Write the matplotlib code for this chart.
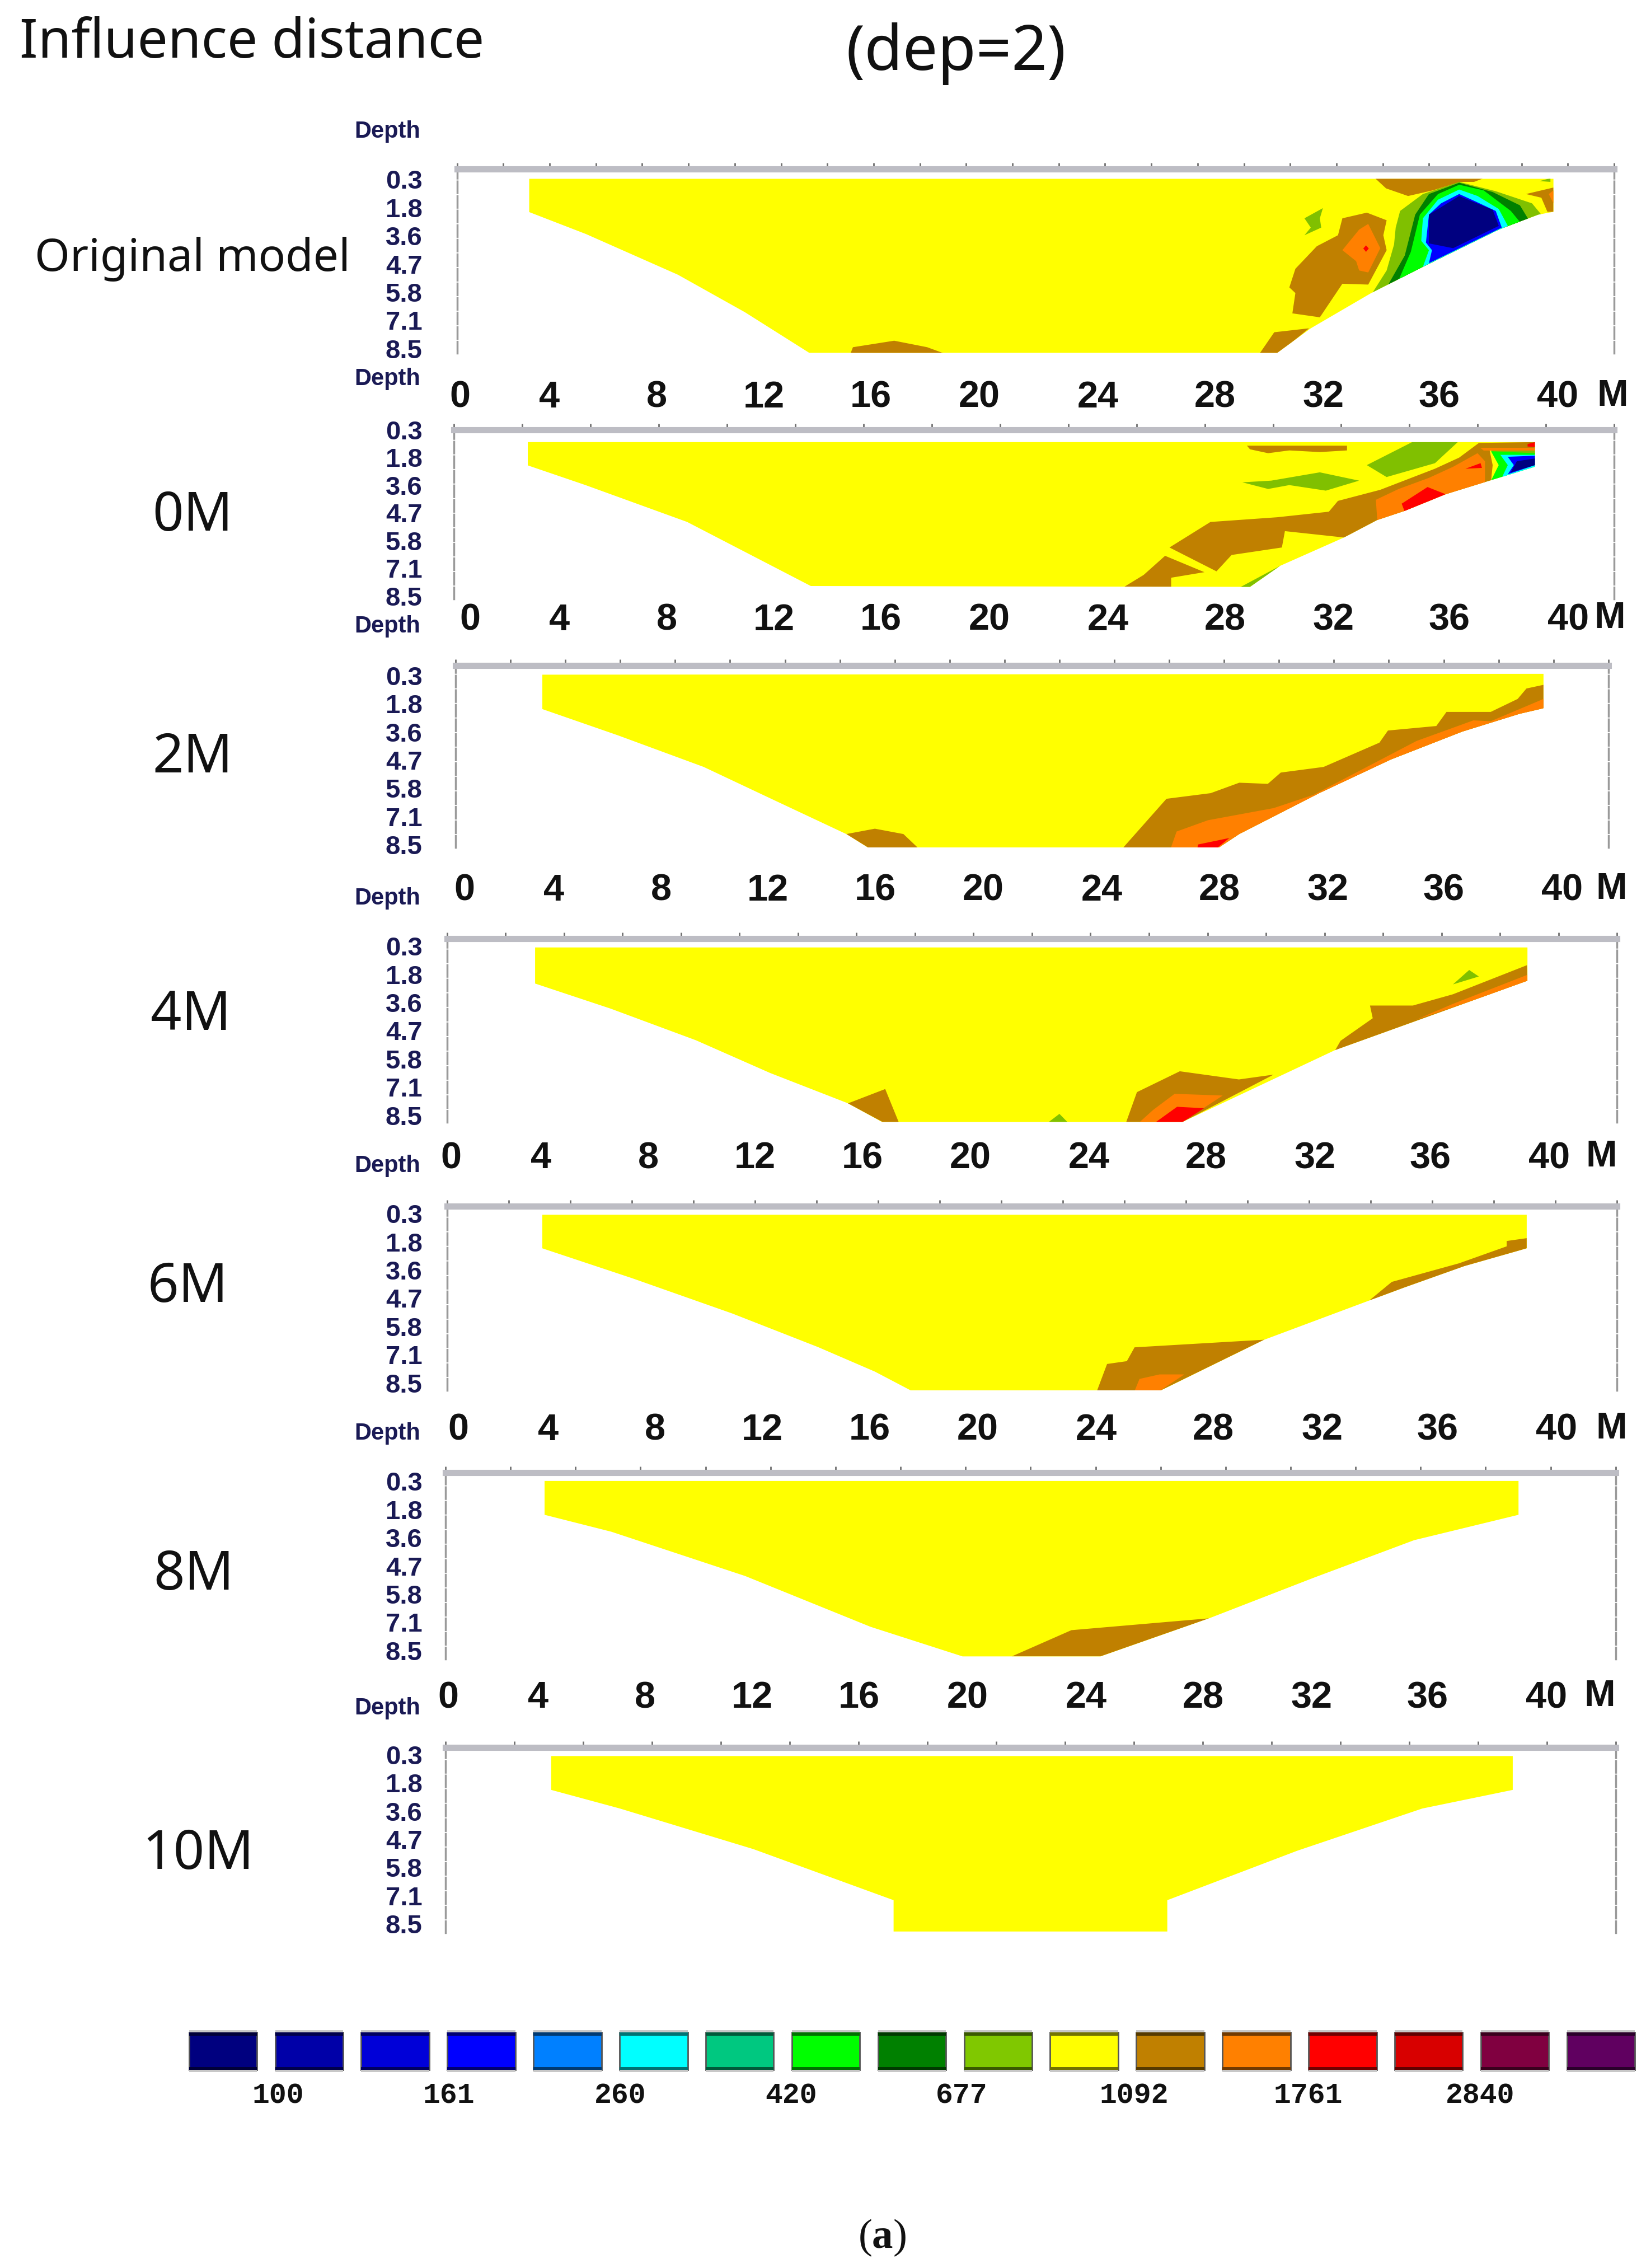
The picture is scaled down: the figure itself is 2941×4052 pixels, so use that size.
import numpy as np
import matplotlib
matplotlib.use('Agg')
import matplotlib.pyplot as plt

W, H = 2941, 4052
SCALE = 2941 / 1138.0  # layout was measured on the shrunk picture

YELLOW = '#ffff00'
BROWN = '#c08000'
ORANGE = '#ff8000'
RED = '#ff0000'
LGREEN = '#80c000'
DGREEN = '#008000'
GREEN = '#00ff00'
CYAN = '#00ffff'
BLUE = '#0000ff'
NAVY = '#000080'
INK = '#1a1a55'

depth_labels = ['0.3', '1.8', '3.6', '4.7', '5.8', '7.1', '8.5']
dist_labels = ['0', '4', '8', '12', '16', '20', '24', '28', '32', '36', '40']
# where the distance labels actually sit, metres from the zero label
dist_pos = [0, 3.26, 7.16, 11.05, 14.95, 18.89, 23.21, 27.47, 31.42, 35.63, 39.95]

panel_names = ['Original model', '0M', '2M', '4M', '6M', '8M', '10M']

# (metres, depth level) where level 0..6 are the depth labels
p1_outline = [(2.52, -0.02), (2.52, 1.16), (4.59, 1.94), (7.93, 3.38), (10.37, 4.71), (12.71, 6.15),
              (29.74, 6.15), (30.96, 5.28), (33.16, 4.03), (35.04, 3.1), (37.8, 1.78), (39.24, 1.25),
              (39.79, 1.15), (39.79, -0.02)]
p1_regions = [
    (BROWN, [(14.2, 6.2), (14.3, 5.95), (15.8, 5.72), (17.0, 5.95), (17.7, 6.2)]),
    (BROWN, [(33.3, -0.04), (37.25, -0.04), (36.9, 0.09), (36.4, 0.09), (35.4, 0.39), (34.5, 0.59), (33.7, 0.32)]),
    (LGREEN, [(31.4, 1.02), (30.73, 1.38), (30.96, 1.71), (30.73, 1.98), (31.34, 1.71), (31.29, 1.38)]),
    (BROWN, [(33.0, 1.18), (33.72, 1.45), (33.6, 1.98), (33.72, 2.51), (33.05, 3.73), (32.11, 3.70), (31.29, 4.89),
             (30.29, 4.75), (30.4, 4.03), (30.18, 3.83), (30.4, 3.17), (31.18, 2.37), (31.95, 1.98), (32.11, 1.38)]),
    (ORANGE, [(33.05, 1.58), (33.49, 2.44), (33.05, 3.30), (32.72, 3.23), (32.61, 2.9), (32.11, 2.51), (32.72, 1.78)]),
    (RED, [(32.97, 2.34), (33.07, 2.45), (32.97, 2.57), (32.87, 2.45)]),
    (BROWN, [(30.9, 5.28), (29.63, 5.42), (29.08, 6.2), (29.74, 6.2)]),
    (LGREEN, [(36.36, 0.09), (37.69, 0.42), (39.01, 0.85), (39.35, 1.25), (35.04, 4.56), (33.16, 4.09), (33.72, 3.23),
              (33.99, 2.31), (34.05, 1.71), (34.21, 1.12), (35.04, 0.52)]),
    (DGREEN, [(36.36, 0.12), (37.58, 0.45), (38.57, 0.92), (38.9, 1.45), (33.72, 3.83), (34.38, 2.7), (34.76, 1.25), (35.26, 0.52)]),
    (GREEN, [(36.36, 0.19), (37.25, 0.39), (38.24, 1.12), (38.57, 1.51), (34.16, 3.56), (34.6, 2.57), (34.93, 1.25), (35.59, 0.52)]),
    (CYAN, [(36.36, 0.36), (37.03, 0.59), (37.8, 1.05), (38.13, 1.65), (35.04, 3.1), (35.26, 2.51), (34.98, 2.18), (35.04, 1.38), (35.59, 0.72)]),
    (BLUE, [(36.36, 0.52), (36.97, 0.79), (37.69, 1.12), (37.91, 1.71), (35.26, 2.97), (35.37, 2.51), (35.15, 2.24), (35.26, 1.25), (35.7, 0.85)]),
    (NAVY, [(36.36, 0.59), (37.58, 1.08), (37.8, 1.65), (36.14, 2.44), (35.26, 2.27), (35.26, 1.25)]),
    (BROWN, [(38.79, 0.52), (39.79, 0.29), (39.79, 1.15), (39.57, 1.15), (39.35, 0.65)]),
    (ORANGE, [(39.62, 0.52), (39.79, 0.39), (39.79, 0.85)]),
    (LGREEN, [(39.29, 0.06), (39.68, -0.04), (39.68, 0.09)]),
]

p2_outline = [(2.1, 0.45), (2.1, 1.29), (4.2, 2.0), (7.9, 3.33), (12.4, 5.64), (28.38, 5.67), (29.48, 4.91),
              (31.8, 3.89), (33.01, 3.26), (34.01, 2.93), (35.5, 2.33), (37.0, 1.87), (38.75, 1.34), (38.75, 0.45)]
p2_regions = [
    (BROWN, [(28.27, 0.58), (31.91, 0.58), (31.91, 0.75), (30.92, 0.81), (29.81, 0.75), (29.04, 0.85), (28.38, 0.71)]),
    (LGREEN, [(34.28, 0.45), (35.94, 0.45), (35.11, 1.21), (33.35, 1.71), (32.63, 1.28)]),
    (LGREEN, [(28.1, 1.9), (29.15, 1.84), (30.92, 1.54), (32.35, 1.84), (31.14, 2.2), (29.81, 2.0), (29.04, 2.14)]),
    (BROWN, [(25.45, 4.25), (26.94, 3.33), (29.37, 3.16), (31.25, 2.96), (31.58, 2.57), (33.12, 2.17), (35.11, 1.41),
             (35.99, 1.01), (36.71, 0.48), (38.75, 0.45), (38.75, 0.71), (37.1, 0.75), (37.21, 1.28), (37.15, 1.87),
             (31.8, 3.89), (29.65, 3.66), (29.54, 4.25), (27.71, 4.52), (27.16, 5.11)]),
    (BROWN, [(25.29, 4.55), (26.72, 5.14), (25.51, 5.34), (25.51, 5.67), (23.8, 5.67), (24.51, 5.24)]),
    (LGREEN, [(27.99, 5.7), (29.48, 4.91), (28.49, 5.7)]),
    (ORANGE, [(32.96, 2.53), (33.79, 2.14), (34.89, 1.74), (35.77, 1.34), (36.66, 0.85), (36.93, 1.14), (36.93, 1.9),
              (35.99, 2.6), (33.01, 3.26)]),
    (RED, [(34.84, 2.07), (35.5, 2.33), (34.01, 2.96), (33.9, 2.67)]),
    (RED, [(36.22, 1.41), (36.77, 1.21), (36.82, 1.38)]),
    (ORANGE, [(36.77, 0.65), (38.75, 0.65), (38.75, 0.75), (36.88, 0.75)]),
    (RED, [(38.48, 0.52), (38.75, 0.45), (38.75, 0.63), (38.48, 0.61)]),
    (LGREEN, [(37.15, 0.75), (38.75, 0.75), (38.75, 0.88), (37.3, 0.88)]),
    (GREEN, [(37.15, 0.78), (38.75, 0.85), (38.75, 1.34), (37.15, 1.84), (37.43, 1.28)]),
    (CYAN, [(37.49, 0.91), (38.75, 0.91), (38.75, 1.34), (37.54, 1.74), (37.76, 1.28)]),
    (BLUE, [(37.76, 0.98), (38.75, 0.94), (38.75, 1.28), (37.76, 1.61), (37.98, 1.28)]),
    (NAVY, [(38.09, 1.14), (38.75, 1.04), (38.75, 1.28), (37.87, 1.54)]),
]

p3_outline = [(2.84, -0.03), (2.84, 1.19), (5.59, 2.12), (8.71, 3.24), (11.3, 4.43), (13.9, 5.62), (14.94, 6.25),
              (27.22, 6.25), (28.2, 5.62), (31.11, 4.17), (33.71, 2.98), (36.31, 1.99), (38.39, 1.36),
              (39.27, 1.16), (39.27, -0.06)]
p3_regions = [
    (BROWN, [(13.9, 5.62), (14.94, 5.43), (15.98, 5.62), (16.66, 6.25), (14.94, 6.25)]),
    (BROWN, [(23.84, 6.25), (25.55, 4.37), (27.16, 4.17), (28.2, 3.8), (29.24, 3.84), (29.71, 3.44), (31.27, 3.24),
             (33.3, 2.38), (33.61, 1.95), (35.37, 1.79), (35.74, 1.29), (37.35, 1.29), (38.33, 0.83), (38.65, 0.46),
             (39.27, 0.33), (39.27, 1.16), (27.22, 6.25)]),
    (ORANGE, [(25.66, 6.25), (25.92, 5.53), (27.06, 5.13), (29.45, 4.7), (30.9, 4.23), (34.65, 2.32), (36.72, 1.59),
              (37.35, 1.62), (39.27, 0.83), (39.27, 1.16), (27.22, 6.25)]),
    (RED, [(26.65, 6.25), (26.7, 5.99), (27.84, 5.76), (27.22, 6.25)]),
]

p4_outline = [(3.05, 0.05), (3.05, 1.33), (5.8, 2.22), (8.9, 3.34), (11.6, 4.5), (14.42, 5.57), (15.68, 6.24),
              (26.6, 6.24), (32.16, 3.69), (39.16, 1.23), (39.16, 0.05)]
p4_regions = [
    (BROWN, [(14.43, 5.58), (15.79, 5.07), (16.28, 6.24), (15.7, 6.24)]),
    (BROWN, [(24.56, 6.24), (24.95, 5.18), (26.51, 4.44), (28.66, 4.73), (29.92, 4.56), (26.61, 6.24)]),
    (ORANGE, [(25.05, 6.24), (25.54, 5.81), (26.32, 5.24), (28.07, 5.3), (26.61, 6.24)]),
    (RED, [(25.64, 6.24), (26.41, 5.7), (27.39, 5.75), (26.61, 6.24)]),
    (LGREEN, [(21.74, 6.24), (22.13, 5.95), (22.42, 6.24)]),
    (BROWN, [(32.36, 3.36), (33.53, 2.56), (33.43, 2.11), (34.99, 2.11), (36.45, 1.71), (39.14, 0.68), (39.16, 1.25), (32.16, 3.7)]),
    (ORANGE, [(39.16, 1.02), (39.16, 1.27), (35.09, 2.62), (36.45, 2.05)]),
    (LGREEN, [(36.45, 1.36), (37.04, 0.85), (37.39, 1.08)]),
]

p5_outline = [(3.05, 0.04), (3.05, 1.23), (6.32, 2.29), (9.96, 3.54), (13.08, 4.73), (15.15, 5.6), (16.5, 6.29),
              (25.51, 6.29), (29.32, 4.47), (33.14, 3.08), (34.41, 2.62), (36.6, 1.86), (38.87, 1.23), (38.87, 0.04)]
p5_regions = [
    (BROWN, [(23.23, 6.29), (23.6, 5.33), (24.32, 5.23), (24.6, 4.74), (29.32, 4.47), (25.51, 6.29)]),
    (ORANGE, [(24.6, 6.29), (24.78, 5.86), (25.51, 5.7), (26.41, 5.7), (25.51, 6.29)]),
    (BROWN, [(33.14, 3.08), (33.96, 2.42), (36.41, 1.76), (38.14, 1.16), (38.14, 0.97), (38.87, 0.87), (38.87, 1.23)]),
]

p6_outline = [(3.5, -0.01), (3.5, 1.19), (5.93, 1.79), (10.8, 3.36), (15.36, 5.16), (18.71, 6.21),
              (23.73, 6.21), (27.68, 4.86), (31.49, 3.42), (35.14, 2.09), (38.94, 1.19), (38.94, -0.01)]
p6_regions = [
    (BROWN, [(20.5, 6.21), (22.67, 5.28), (27.68, 4.86), (23.73, 6.21)]),
]

p7_outline = [(3.74, 0.05), (3.74, 1.25), (6.24, 1.91), (11.1, 3.35), (16.2, 5.16), (16.2, 6.27),
              (26.16, 6.27), (26.16, 5.16), (30.88, 3.41), (35.44, 1.91), (38.73, 1.25), (38.73, 0.05)]
p7_regions = []

outlines = [p1_outline, p2_outline, p3_outline, p4_outline, p5_outline, p6_outline, p7_outline]
regions = [p1_regions, p2_regions, p3_regions, p4_regions, p5_regions, p6_regions, p7_regions]

# layout of the panels, measured in shrunk picture pixels
left_px = [316, 314, 315, 309, 309, 308, 308]
right_px = [1116, 1116, 1112, 1118, 1118, 1117, 1117]
zero_px = [318, 325, 321, 312, 317, 310, 310]
level0_px = [124, 295, 467, 654, 839, 1024, 1213]
top_px = [117, 297, 460, 649, 834, 1018, 1208]
bottom_px = [244, 414, 586, 776, 961, 1147, 1336]
label_px = [274, 428, 615, 800, 988, 1173, None]
m_px = [1115, 1113, 1114, 1107, 1114, 1106, None]
depth_px = [91, 262, 433, 621, 806, 991, 1181]
name_px = [(133, 179), (133, 357), (133, 524), (132, 702), (130, 890), (134, 1089), (137, 1282)]
top_ticks = [25, 17, 21, 20, 19, 18, 17]

PX_PER_M = 19.0
PX_PER_LEVEL = 19.5

scale_colors = ['#00007f', '#0000a8', '#0000d8', '#0000ff', '#0080ff', '#00ffff', '#00c880', '#00ff00', '#008000',
                '#80c800', '#ffff00', '#c08000', '#ff8000', '#ff0000', '#d80000', '#800040', '#600060']
scale_labels = ['100', '161', '260', '420', '677', '1092', '1761', '2840']
scale_pos = [0.64, 2.62, 4.61, 6.6, 8.58, 10.58, 12.6, 14.6]

plt.rcParams['font.family'] = ['Noto Sans', 'DejaVu Sans']
plt.rcParams['mathtext.fontset'] = 'custom'
plt.rcParams['mathtext.bf'] = 'Liberation Serif:bold'
plt.rcParams['mathtext.rm'] = 'Liberation Serif'

PT = 0.72 * SCALE  # shrunk px to points at dpi 100


def fx(x):
    return x * SCALE / W


def fy(y):
    return 1 - y * SCALE / H


def add_axes_px(x0, y0, x1, y1):
    return fig.add_axes([fx(x0), fy(y1), fx(x1) - fx(x0), fy(y0) - fy(y1)])


def draw_panel(i):
    ax = add_axes_px(left_px[i], top_px[i], right_px[i], bottom_px[i])
    ax.patch.set_alpha(0)
    xa = (left_px[i] - zero_px[i]) / PX_PER_M
    xb = (right_px[i] - zero_px[i]) / PX_PER_M
    ya = (top_px[i] - level0_px[i]) / PX_PER_LEVEL
    yb = (bottom_px[i] - level0_px[i]) / PX_PER_LEVEL
    ax.set_xlim(xa, xb)
    ax.set_ylim(yb, ya)

    xs, ys = zip(*outlines[i])
    body = ax.fill(xs, ys, color=YELLOW, lw=0, zorder=1)[0]
    for n, (col, pts) in enumerate(regions[i]):
        xs, ys = zip(*pts)
        poly = ax.fill(xs, ys, color=col, lw=0, zorder=2 + n)[0]
        poly.set_clip_path(body)

    for s in ['left', 'right']:
        ax.spines[s].set_color('#9a9a9a')
        ax.spines[s].set_linewidth(2.5)
        ax.spines[s].set_linestyle((0, (6, 1.5)))
    ax.spines['bottom'].set_visible(False)
    ax.spines['top'].set_color('#bdbdc4')
    ax.spines['top'].set_linewidth(8)

    ax.set_yticks(range(len(depth_labels)))
    ax.set_yticklabels(depth_labels, family='Liberation Sans', fontweight='bold', fontsize=34, color=INK)
    ax.tick_params(axis='y', length=0, pad=(left_px[i] - 292) * PT)

    ax.set_xticks(np.linspace(xa, xb, top_ticks[i] + 1), minor=True)
    ax.tick_params(axis='x', which='minor', top=True, bottom=False, length=8, width=2, color='#707070')
    if label_px[i] is not None:
        ax.set_xticks(dist_pos)
        ax.set_xticklabels(dist_labels, family='Liberation Sans', fontweight='bold', fontsize=48, color='#111111')
        ax.tick_params(axis='x', which='major', length=0, pad=(label_px[i] - 11 - bottom_px[i]) * PT)
        ax.text((m_px[i] - zero_px[i]) / PX_PER_M, (label_px[i] - level0_px[i]) / PX_PER_LEVEL, 'M',
                family='Liberation Sans', fontweight='bold', fontsize=48, color='#111111',
                ha='center', va='center', clip_on=False)
    else:
        ax.set_xticks([])

    fig.text(fx(268), fy(depth_px[i]), 'Depth', family='Liberation Sans', fontweight='bold',
             fontsize=30, color=INK, ha='center', va='center')
    size = 58 if i == 0 else 70
    fig.text(fx(name_px[i][0]), fy(name_px[i][1]), panel_names[i], fontsize=size, color='#111111',
             ha='center', va='center')


fig = plt.figure(figsize=(W / 100, H / 100), dpi=100, facecolor='white')

fig.text(fx(174), fy(30), 'Influence distance', fontsize=69.5, color='#111111', ha='center', va='center')
fig.text(fx(661), fy(37), '(dep=2)', fontsize=80, color='#111111', ha='center', va='center')

for i in range(len(outlines)):
    draw_panel(i)

# colour scale along the bottom, dark bands and a pale halo top and bottom of each swatch
n_scale = len(scale_colors)
band_colors = [tuple(0.45 * c for c in matplotlib.colors.to_rgb(col)) for col in scale_colors]
cb = add_axes_px(124.4, 1400, 1136.6, 1436)
cb.bar(range(n_scale), [1] * n_scale, width=0.79, color=scale_colors, edgecolor='#555555', linewidth=2)
cb.bar(range(n_scale), [0.08] * n_scale, width=0.79, bottom=0.92, color=band_colors, lw=0)
cb.bar(range(n_scale), [0.08] * n_scale, width=0.79, bottom=0, color=band_colors, lw=0)
cb.bar(range(n_scale), [0.07] * n_scale, width=0.79, bottom=1.0, color='#c8c8c8', lw=0)
cb.bar(range(n_scale), [0.07] * n_scale, width=0.79, bottom=-0.07, color='#c8c8c8', lw=0)
cb.set_xlim(-0.5, n_scale - 0.5)
cb.set_ylim(-0.2, 1.2)
for s in cb.spines.values():
    s.set_visible(False)
cb.patch.set_alpha(0)
cb.set_yticks([])
cb.set_xticks(scale_pos)
cb.set_xticklabels(scale_labels, family='Liberation Mono', fontweight='bold', fontsize=37, color='#111111')
cb.tick_params(axis='x', length=0, pad=6)

fig.text(fx(610), fy(1547), r'($\mathbf{a}$)', family='Liberation Serif', fontsize=54, color='#111111',
         ha='center', va='center')

fig.savefig('out.png', dpi=100, facecolor='white')
